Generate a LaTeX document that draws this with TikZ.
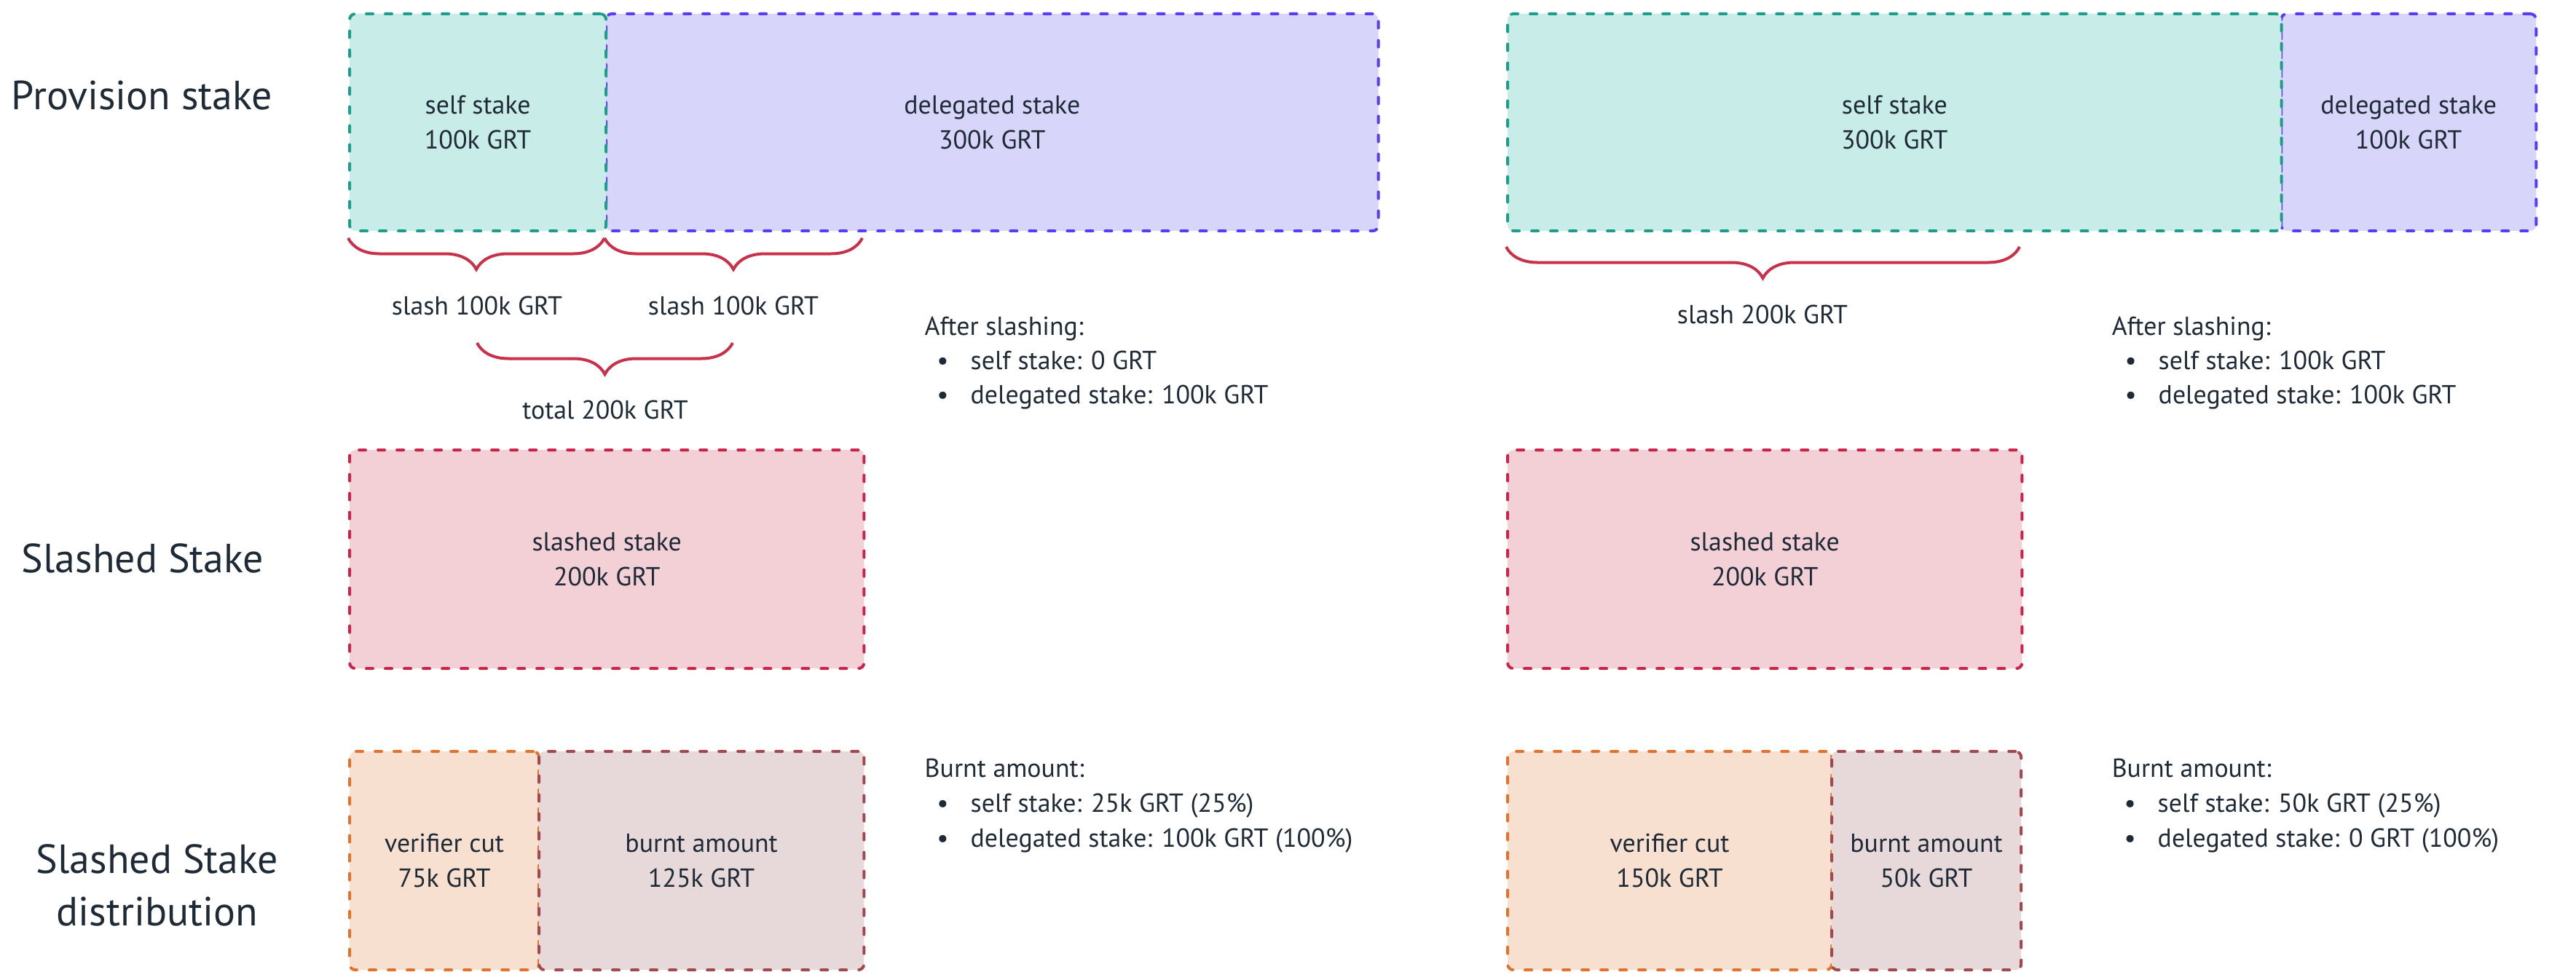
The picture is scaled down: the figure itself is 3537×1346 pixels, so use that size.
\documentclass[tikz,border=0pt]{standalone}
\usepackage{fontspec}
\setmainfont{PT Sans}
\usetikzlibrary{decorations.pathreplacing}
\definecolor{inkdark}{HTML}{1F2A37}
\definecolor{selfline}{HTML}{1E9E8A}
\definecolor{selffill}{HTML}{C8ECE7}
\definecolor{delline}{HTML}{5B3CF5}
\definecolor{delfill}{HTML}{D8D5FA}
\definecolor{slashline}{HTML}{C9254B}
\definecolor{slashfill}{HTML}{F2D0D6}
\definecolor{cutline}{HTML}{E0742F}
\definecolor{cutfill}{HTML}{F7E0CF}
\definecolor{burnline}{HTML}{A24950}
\definecolor{burnfill}{HTML}{E7D8DA}
\definecolor{braceline}{HTML}{C8314A}
\newcommand\stakefont{\fontsize{10.2}{13.7}\selectfont}
\newcommand\rowfont{\fontsize{15.9}{20.5}\selectfont}
\newcommand\bul{\llap{\textbullet\hspace{0.3cm}}}

\tikzset{
  stakebox/.style={rectangle, rounded corners=0.08cm, line width=0.04cm,
    line cap=round, dash pattern=on 0.09cm off 0.17cm, anchor=north west,
    align=center, inner sep=0pt, text=inkdark, font=\stakefont},
  rowlabel/.style={align=center, text=inkdark, font=\rowfont},
  note/.style={anchor=base west, inner sep=0pt, text=inkdark, font=\stakefont},
  slashbrace/.style={draw=braceline, line width=0.04cm,
    decorate, decoration={brace, mirror, amplitude=0.43cm}}
}

\begin{document}
\begin{tikzpicture}[x=0.01cm, y=-0.01cm]
\useasboundingbox (0,0) rectangle (3537,1346);

% row titles
\node[rowlabel] (provision) at (195,131) {Provision stake};
\node[rowlabel] (slashed) at (196,767) {Slashed Stake};
\node[rowlabel] (distribution) at (216,1216) {Slashed Stake\\distribution};

% left case: provision
\node[stakebox, draw=delline, fill=delfill, minimum width=10.6cm, minimum height=2.98cm] (delL) at (830,17) {delegated stake\\300k GRT};
\node[stakebox, draw=selfline, fill=selffill, minimum width=3.52cm, minimum height=2.98cm] (selfL) at (478,17) {self stake\\100k GRT};

\draw[slashbrace] (478,327) -- (830,327);
\draw[slashbrace] (830,327) -- (1184,327);
\node[note, anchor=center] (slashL1) at (655,420) {slash 100k GRT};
\node[note, anchor=center] (slashL2) at (1007,420) {slash 100k GRT};
\draw[slashbrace] (655,471) -- (1006,471);
\node[note, anchor=center] (totalL) at (831,563) {total 200k GRT};

\node[note] (afterL) at (1269,460) {After slashing:};
\node[note] (afterL1) at (1332,507) {\bul self stake: 0 GRT};
\node[note] (afterL2) at (1332,554) {\bul delegated stake: 100k GRT};

% left case: slashed stake
\node[stakebox, draw=slashline, fill=slashfill, minimum width=7.06cm, minimum height=3cm] (slashedL) at (478,616) {slashed stake\\200k GRT};

% left case: distribution
\node[stakebox, draw=cutline, fill=cutfill, minimum width=2.6cm, minimum height=3cm] (cutL) at (478,1030) {verifier cut\\75k GRT};
\node[stakebox, draw=burnline, fill=burnfill, minimum width=4.46cm, minimum height=3cm] (burnL) at (738,1030) {burnt amount\\125k GRT};

\node[note] (burntL) at (1269,1067) {Burnt amount:};
\node[note] (burntL1) at (1332,1115) {\bul self stake: 25k GRT (25\%)};
\node[note] (burntL2) at (1332,1163) {\bul delegated stake: 100k GRT (100\%)};

% right case: provision
\node[stakebox, draw=delline, fill=delfill, minimum width=3.5cm, minimum height=2.98cm] (delR) at (3130,17) {delegated stake\\100k GRT};
\node[stakebox, draw=selfline, fill=selffill, minimum width=10.62cm, minimum height=2.98cm] (selfR) at (2068,17) {self stake\\300k GRT};

\draw[slashbrace] (2068,339) -- (2773,339);
\node[note, anchor=center] (slashR) at (2420,432) {slash 200k GRT};

\node[note] (afterR) at (2899,460) {After slashing:};
\node[note] (afterR1) at (2963,507) {\bul self stake: 100k GRT};
\node[note] (afterR2) at (2963,554) {\bul delegated stake: 100k GRT};

% right case: slashed stake
\node[stakebox, draw=slashline, fill=slashfill, minimum width=7.06cm, minimum height=3cm] (slashedR) at (2068,616) {slashed stake\\200k GRT};

% right case: distribution
\node[stakebox, draw=cutline, fill=cutfill, minimum width=4.45cm, minimum height=3cm] (cutR) at (2068,1030) {verifier cut\\150k GRT};
\node[stakebox, draw=burnline, fill=burnfill, minimum width=2.6cm, minimum height=3cm] (burnR) at (2513,1030) {burnt amount\\50k GRT};

\node[note] (burntR) at (2899,1067) {Burnt amount:};
\node[note] (burntR1) at (2962,1115) {\bul self stake: 50k GRT (25\%)};
\node[note] (burntR2) at (2962,1163) {\bul delegated stake: 0 GRT (100\%)};
\end{tikzpicture}
\end{document}
